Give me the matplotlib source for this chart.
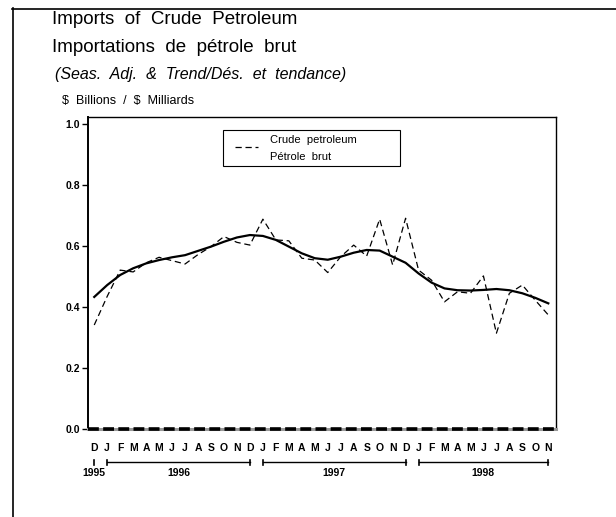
import matplotlib
matplotlib.use("Agg")
import matplotlib.pyplot as plt
from matplotlib.lines import Line2D
from matplotlib.patches import Rectangle

# DATA

months = ["D",
          "J", "F", "M", "A", "M", "J", "J", "A", "S", "O", "N", "D",
          "J", "F", "M", "A", "M", "J", "J", "A", "S", "O", "N", "D",
          "J", "F", "M", "A", "M", "J", "J", "A", "S", "O", "N"]

years = ["1995", "1996", "1997", "1998"]
year_start = [0, 1, 13, 25]
year_end = [0, 12, 24, 35]

seas_adj = [0.341,
            0.435, 0.521, 0.515, 0.545, 0.563, 0.552, 0.541, 0.572, 0.598, 0.631, 0.612, 0.603,
            0.688, 0.620, 0.617, 0.560, 0.554, 0.513, 0.565, 0.603, 0.567, 0.688, 0.538, 0.691,
            0.521, 0.488, 0.417, 0.450, 0.445, 0.502, 0.314, 0.445, 0.472, 0.422, 0.374]

trend = [0.433,
         0.472, 0.505, 0.527, 0.543, 0.554, 0.563, 0.570, 0.584, 0.598, 0.614, 0.628, 0.636,
         0.633, 0.620, 0.598, 0.576, 0.560, 0.555, 0.565, 0.578, 0.587, 0.585, 0.565, 0.545,
         0.510, 0.480, 0.461, 0.455, 0.454, 0.456, 0.459, 0.455, 0.445, 0.430, 0.412]

x = list(range(len(months)))

# FIGURE

plt.rcParams["font.family"] = ["Liberation Sans", "DejaVu Sans"]

fig = plt.figure(figsize=(6.16, 5.17), dpi=100)
ax = fig.add_axes([0.1433, 0.1702, 0.7588, 0.6035])

ax.plot(x, seas_adj, color="black", lw=0.9, dashes=(5, 3))
ax.plot(x, trend, color="black", lw=1.6)

ax.set_xlim(-0.46, 35.57)
ax.set_ylim(0, 1.023)

ax.set_yticks([0.0, 0.2, 0.4, 0.6, 0.8, 1.0])
ax.set_yticklabels(["0.0", "0.2", "0.4", "0.6", "0.8", "1.0"], fontsize=7.5, fontweight="bold")
ax.tick_params(axis="y", length=4, width=1, pad=2)
ax.set_xticks([])

ax.spines["left"].set_linewidth(1.4)
ax.spines["top"].set_linewidth(1.0)
ax.spines["right"].set_linewidth(1.0)
ax.spines["bottom"].set_visible(False)

# dashed zero axis
ax.axhline(0, color="#999999", lw=2.2, clip_on=False, zorder=3)
ax.axhline(0, color="black", lw=2.6, dashes=(3, 1.2), clip_on=False, zorder=4)

# month labels and year brackets
tr = ax.get_xaxis_transform()
for i, m in enumerate(months):
    ax.text(i, -0.060, m, transform=tr, ha="center", va="center",
            fontsize=7.5, fontweight="bold")

for yr, s, e in zip(years, year_start, year_end):
    if s == e:
        ax.plot([s, s], [-0.098, -0.115], transform=tr, color="black", lw=1.2, clip_on=False)
    else:
        ax.plot([s, e], [-0.107, -0.107], transform=tr, color="black", lw=1.0, clip_on=False)
        for p in (s, e):
            ax.plot([p, p], [-0.099, -0.115], transform=tr, color="black", lw=1.2, clip_on=False)
    ax.text((s + e) / 2, -0.142, yr, transform=tr, ha="center", va="center",
            fontsize=7.5, fontweight="bold")

# legend box
ax.add_patch(Rectangle((0.288, 0.843), 0.379, 0.115, transform=ax.transAxes,
                       facecolor="white", edgecolor="black", lw=0.8, zorder=5))
ax.add_line(Line2D([0.314, 0.363], [0.904, 0.904], transform=ax.transAxes,
                   color="black", lw=0.9, dashes=(5, 3), zorder=6))
ax.text(0.389, 0.926, "Crude  petroleum", transform=ax.transAxes, fontsize=8,
        va="center", zorder=6)
ax.text(0.389, 0.872, "Pétrole  brut", transform=ax.transAxes, fontsize=8,
        va="center", zorder=6)

# titles
fig.text(52 / 616, 1 - 20 / 517, "Imports  of  Crude  Petroleum", fontsize=13.5, va="center")
fig.text(52 / 616, 1 - 47 / 517, "Importations  de  pétrole  brut", fontsize=13.5, va="center")
fig.text(55 / 616, 1 - 74 / 517, "(Seas.  Adj.  &  Trend/Dés.  et  tendance)", fontsize=11.5,
         style="italic", va="center")
fig.text(62 / 616, 1 - 101 / 517, r"\$  Billions  /  \$  Milliards", fontsize=9, va="center")

# outer frame
fig.add_artist(Line2D([12.5 / 616, 12.5 / 616], [0, 1 - 8 / 517], color="black", lw=1.2,
                      transform=fig.transFigure))
fig.add_artist(Line2D([12 / 616, 1], [1 - 8.5 / 517, 1 - 8.5 / 517], color="black", lw=1.2,
                      transform=fig.transFigure))

fig.savefig("out.png", dpi=100)
